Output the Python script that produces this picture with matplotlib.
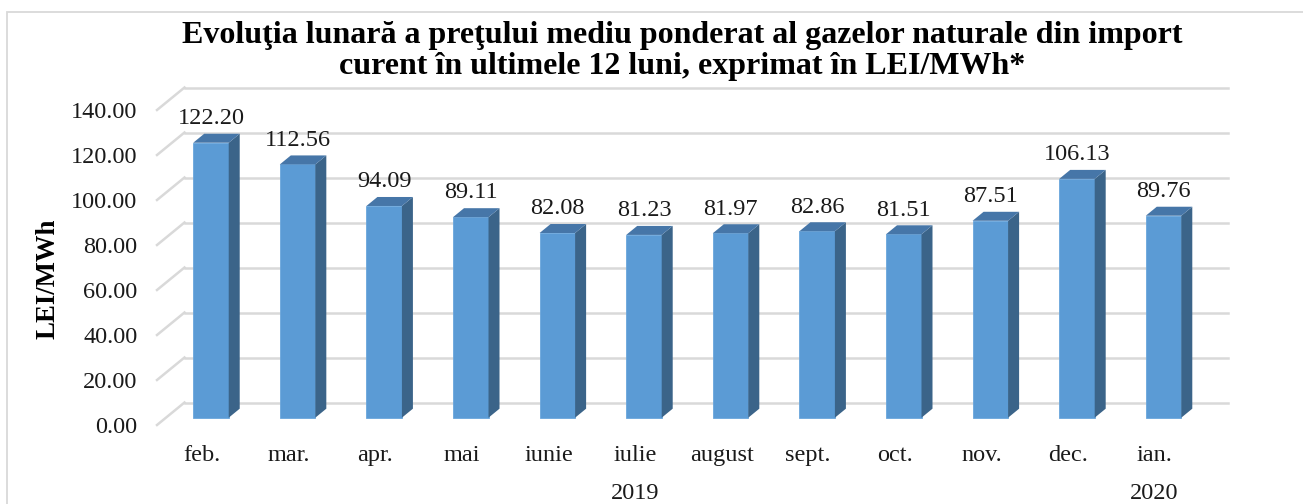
import matplotlib
matplotlib.use("Agg")
import matplotlib.pyplot as plt
from matplotlib.patches import Rectangle, Polygon
from matplotlib.transforms import blended_transform_factory

# data
months = ['feb.', 'mar.', 'apr.', 'mai', 'iunie', 'iulie', 'august',
          'sept.', 'oct.', 'nov.', 'dec.', 'ian.']
prices = [122.20, 112.56, 94.09, 89.11, 82.08, 81.23, 81.97,
          82.86, 81.51, 87.51, 106.13, 89.76]
years       = ['2019', '2020']
year_months = [(0, 10), (11, 11)]  # first/last month index of each year
y_ticks     = [0, 20, 40, 60, 80, 100, 120, 140]

title_lines = ['Evoluţia lunară a preţului mediu ponderat al gazelor naturale din import',
               'curent în ultimele 12 luni, exprimat în LEI/MWh*']

plt.rcParams['font.family'] = ['Liberation Serif', 'DejaVu Serif']

W, H, DPI = 1303, 504, 100
fig = plt.figure(figsize=(W / DPI, H / DPI), dpi=DPI)
txt_c = '#1a1a1a'
fs = 17.5

# chart frame (cut off on the right and bottom like the source)
fig.patches.append(Rectangle((7 / W, -0.2), 1.5, 1 - 12 / H + 0.2,
                             transform=fig.transFigure, fill=False,
                             edgecolor='#d9d9d9', linewidth=1.3))

# front (label) plane of the plot area, in pixels
left_px, right_px, bottom_px, top_px = 157, 1200.5, 425, 110
ax = fig.add_axes([left_px / W, 1 - bottom_px / H,
                   (right_px - left_px) / W, (bottom_px - top_px) / H])
xlim = (-0.52, 11.53)
ylim = (0, 140)
ax.set_xlim(*xlim)
ax.set_ylim(*ylim)
for s in ax.spines.values():
    s.set_visible(False)

# 3d depth of the walls, converted from pixels to data units
x_per_px = (xlim[1] - xlim[0]) / (right_px - left_px)
y_per_px = (ylim[1] - ylim[0]) / (bottom_px - top_px)
DX, DY = 27.5 * x_per_px, 22.5 * y_per_px

grid_c = '#d9d9d9'
for v in y_ticks:
    # back wall
    ax.plot([xlim[0] + DX, xlim[1] + DX], [v + DY, v + DY],
            color=grid_c, lw=1.8, clip_on=False, zorder=1)
    # side wall
    ax.plot([xlim[0], xlim[0] + DX], [v, v + DY],
            color=grid_c, lw=1.8, clip_on=False, zorder=1)

# bars: front face, side face, top face
bar_w = 0.41
f1, f2 = 0.325, 0.725   # front/back depth of the bars
front_c, side_c, top_c = '#5b9bd5', '#3b6489', '#4676a8'
for i, v in enumerate(prices):
    xl = i - bar_w / 2 + f1 * DX
    xr = xl + bar_w
    y0 = f1 * DY
    dx, dy = (f2 - f1) * DX, (f2 - f1) * DY
    ax.add_patch(Rectangle((xl, y0), bar_w, v, facecolor=front_c,
                           edgecolor='#6aa6dc', lw=0.6, zorder=3, clip_on=False))
    ax.add_patch(Polygon([(xr, y0), (xr + dx, y0 + dy), (xr + dx, v + y0 + dy), (xr, v + y0)],
                         closed=True, facecolor=side_c, edgecolor='none',
                         zorder=3, clip_on=False))
    ax.add_patch(Polygon([(xl, v + y0), (xl + dx, v + y0 + dy), (xr + dx, v + y0 + dy), (xr, v + y0)],
                         closed=True, facecolor=top_c, edgecolor='none',
                         zorder=3, clip_on=False))
    ax.annotate(f'{v:.2f}', (i + f1 * DX, v + f2 * DY), xytext=(0, 7),
                textcoords='offset points', ha='center', va='baseline',
                fontsize=fs, color=txt_c, zorder=4)

# y ticks
ax.set_yticks(y_ticks)
ax.set_yticklabels([f'{v:.2f}' for v in y_ticks], fontsize=fs, color=txt_c)
ax.tick_params(axis='y', length=0, pad=14)
ax.set_xticks([])

# month and year rows, baselines in figure pixels
xt = blended_transform_factory(ax.transData, fig.transFigure)
for i, m in enumerate(months):
    ax.text(i, 1 - 461 / H, m, transform=xt, ha='center', va='baseline',
            fontsize=fs, color=txt_c)
for year, (a, b) in zip(years, year_months):
    ax.text((a + b) / 2, 1 - 499 / H, year, transform=xt,
            ha='center', va='baseline', fontsize=fs, color=txt_c)

# titles
fig.text(682 / W, 1 - 43 / H, title_lines[0], ha='center', va='baseline',
         fontsize=23, fontweight='bold')
fig.text(682 / W, 1 - 74 / H, title_lines[1], ha='center', va='baseline',
         fontsize=23, fontweight='bold')
fig.text(48 / W, 1 - 279 / H, 'LEI/MWh', rotation=90, ha='center', va='center',
         fontsize=19.3, fontweight='bold')

fig.savefig('out.png', dpi=DPI)
